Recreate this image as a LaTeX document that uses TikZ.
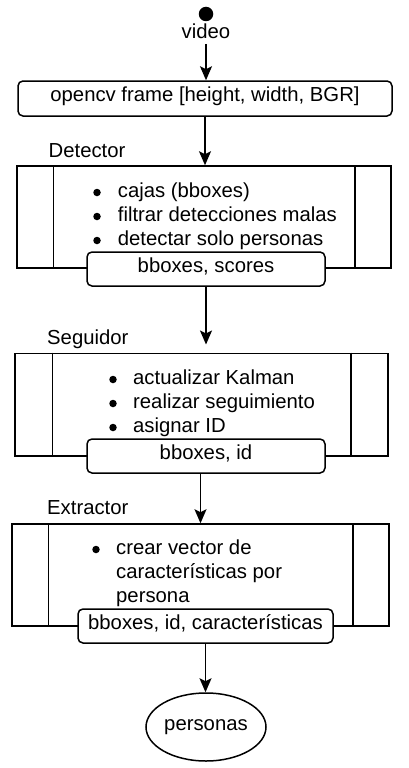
\documentclass[tikz,border=0pt]{standalone}
\usepackage{fontspec}
\setmainfont{Liberation Sans}
\usetikzlibrary{arrows.meta,shapes.geometric}
\begin{document}
\begin{tikzpicture}[x=1pt,y=-1pt,
  every node/.style={font=\fontsize{20.3}{24.4}\selectfont, inner sep=0pt},
  lw/.style={line width=1.5pt},
  flow/.style={lw,-{Stealth[length=14pt,width=12pt,inset=3pt]}},
  rbox/.style={lw,draw,fill=white,rounded corners=5pt,text height=0.8em,text depth=0.107em},
  proc/.style={lw,draw},
  bul/.style={circle,fill=black,minimum size=7.5pt},
  item/.style={anchor=base west},
  title/.style={anchor=base west},
]
\useasboundingbox (0,0) rectangle (409,768);

% start
\node[circle,fill=black,minimum size=14.5pt] (start) at (206,14) {};
\node[anchor=base] (video) at (206,38.5) {video};
\node[rbox,minimum width=374pt,minimum height=35pt] (frame) at (205,98.5) {opencv frame [height, width, BGR]};
\draw[flow,shorten <=5pt] (video.south) -- (video.south |- frame.north);

% Detector
\node[title] (dettitle) at (48.5,157.7) {Detector};
\node[proc,minimum width=374pt,minimum height=102pt] (det) at (204,217) {};
\draw[lw] ([xshift=37pt]det.north west) -- ([xshift=37pt]det.south west);
\draw[lw] ([xshift=-37pt]det.north east) -- ([xshift=-37pt]det.south east);
\node[bul] (d1b) at (97,192.5) {};
\node[item] (d1) at (117.7,197) {cajas (bboxes)};
\node[bul] (d2b) at (97,216.5) {};
\node[item] (d2) at (117.7,221) {filtrar detecciones malas};
\node[bul] (d3b) at (97,240.5) {};
\node[item] (d3) at (117.7,245) {detectar solo personas};
\node[rbox,minimum width=238pt,minimum height=34pt] (dout) at (206,269) {bboxes, scores};
\draw[flow] (frame.south) -- (frame.south |- det.north);

% Seguidor
\node[title] (segtitle) at (47,344.3) {Seguidor};
\node[proc,minimum width=373pt,minimum height=102.5pt] (seg) at (201.5,404.5) {};
\draw[lw] ([xshift=38pt]seg.north west) -- ([xshift=38pt]seg.south west);
\draw[lw] ([xshift=-38pt]seg.north east) -- ([xshift=-38pt]seg.south east);
\node[bul] (s1b) at (113,379.5) {};
\node[item] (s1) at (133,384) {actualizar Kalman};
\node[bul] (s2b) at (113,403.5) {};
\node[item] (s2) at (133,408) {realizar seguimiento};
\node[bul] (s3b) at (113,427.5) {};
\node[item] (s3) at (133,432) {asignar ID};
\node[rbox,minimum width=238pt,minimum height=34pt] (sout) at (206,456) {bboxes, id};
\draw[flow,shorten >=8pt] (dout.south) -- (dout.south |- seg.north);

% Extractor
\node[title] (exttitle) at (47,514.3) {Extractor};
\node[proc,minimum width=377pt,minimum height=102pt] (ext) at (200.5,575) {};
\draw[lw] ([xshift=37pt]ext.north west) -- ([xshift=37pt]ext.south west);
\draw[lw] ([xshift=-37pt]ext.north east) -- ([xshift=-37pt]ext.south east);
\node[bul] (e1b) at (96,549.5) {};
\node[item] (e1) at (116,554) {crear vector de};
\node[item] (e2) at (116,578) {características por};
\node[item] (e3) at (116,602) {persona};
\node[rbox,minimum width=255pt,minimum height=34pt] (eout) at (205.5,626) {bboxes, id, características};
\draw[flow] (sout.south -| ext.north) -- (ext.north);

% end
\node[ellipse,draw,lw,minimum width=120pt,minimum height=68pt,text height=0.8em,text depth=0.107em] (pers) at (206,727) {personas};
\draw[flow] (eout.south) -- (eout.south |- pers.north);
\end{tikzpicture}
\end{document}
